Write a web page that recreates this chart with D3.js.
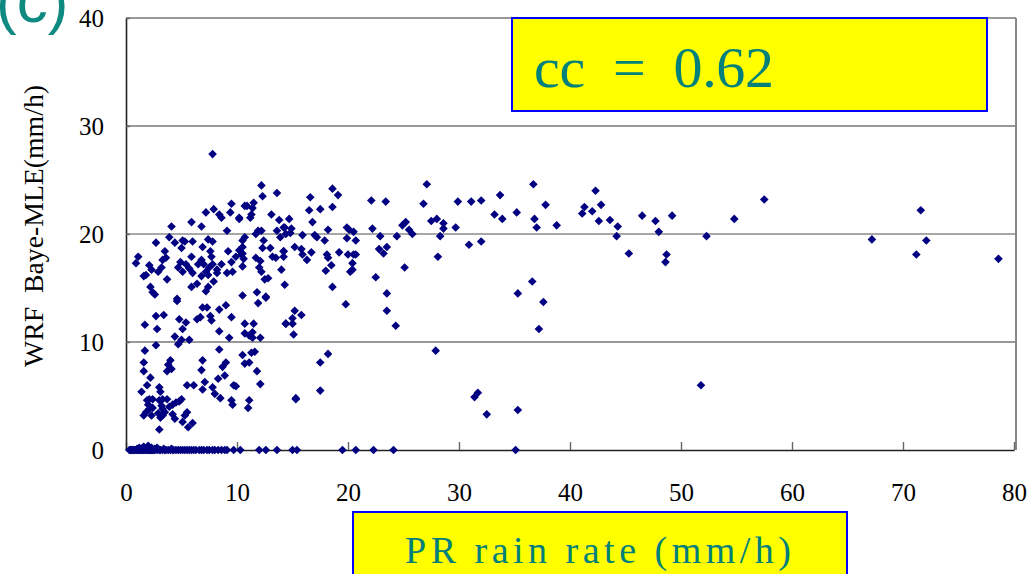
<!DOCTYPE html>
<html>
<head>
<meta charset="utf-8">
<script src="https://cdn.jsdelivr.net/npm/d3@7"></script>
<style>
  body { margin: 0; background: #fff; }
  svg { display: block; }
</style>
</head>
<body>
<svg width="1032" height="574"></svg>
<script>
// Chart data (PR rain rate vs WRF Baye-MLE, mm/h)
const xTicks = [0, 10, 20, 30, 40, 50, 60, 70, 80];
const yTicks = [0, 10, 20, 30, 40];
const gridValues = [10, 20, 30, 40];
const yLabel = 'WRF  Baye-MLE(mm/h)';
const xLabel = 'PR rain rate (mm/h)';
const ccLabel = 'cc  =  0.62';
const panelLabel = '(c)';

// PR values where WRF gives 0 mm/h
const zeroRowPR = [0.3, 0.4, 0.5, 0.6, 0.7, 0.8, 0.9, 1.0, 1.1, 1.2, 1.3, 1.4, 1.5, 1.6,
  1.7, 1.8, 1.9, 2.0, 2.1, 2.2, 2.3, 2.4, 2.5, 2.6, 2.8, 3.0, 3.1, 3.3, 3.5, 3.6, 3.8,
  4.0, 4.2, 4.3, 4.5, 4.7, 4.9, 5.1, 5.3, 5.5, 5.7, 5.9, 6.1, 6.3, 6.6, 6.8, 7.0, 7.3,
  7.5, 7.8, 8.0, 8.3, 8.6, 8.9, 9.1, 9.7, 10.3, 12.0, 12.6, 13.6, 15.0, 15.4, 19.5,
  20.7, 22.3, 24.1, 35.1];

// small nonzero values near the bottom
const nearZero = [[1.0, 0.1], [1.2, 0.2], [1.5, 0.2], [1.6, 0.3], [1.9, 0.2], [2.0, 0.4],
  [2.3, 0.2], [2.6, 0.1], [2.8, 0.2], [3.4, 0.1], [4.1, 0.1]];

// [PR, WRF]
const points = [
  // PR > 35
  [36.7, 24.6], [36.8, 21.4], [37.0, 20.6], [37.8, 22.7], [38.8, 20.8], [41.1, 21.9],
  [41.3, 22.5], [42.0, 22.1], [42.3, 24.0], [42.8, 22.7], [42.6, 21.2], [43.6, 21.3],
  [44.3, 20.7], [44.2, 19.8], [45.3, 18.2], [46.5, 21.7], [47.7, 21.2], [48.0, 20.2],
  [48.7, 18.1], [48.6, 17.4], [49.2, 21.7], [52.3, 19.8], [51.8, 6.0], [54.8, 21.4],
  [57.5, 23.2], [67.2, 19.5], [71.2, 18.1], [71.6, 22.2], [72.1, 19.4], [78.6, 17.7],
  [36.6, 15.6], [37.6, 13.7], [37.2, 11.2],
  // PR 14 - 36
  [27.1, 24.6], [18.6, 24.2], [19.1, 23.6], [16.6, 23.4], [16.5, 22.2], [17.5, 22.3],
  [18.6, 22.5], [22.1, 23.1], [23.4, 23.0], [26.8, 22.8], [29.9, 23.0], [31.1, 23.0],
  [32.0, 23.1], [33.7, 23.6], [33.2, 21.8], [33.9, 21.4], [35.2, 22.0], [14.7, 21.4],
  [16.8, 21.1], [14.3, 20.6], [14.9, 20.5], [14.8, 20.1], [15.9, 19.9], [17.0, 19.9],
  [17.2, 19.7], [18.2, 20.4], [17.9, 19.4], [19.9, 20.6], [20.1, 20.4], [20.5, 20.2],
  [20.7, 19.4], [19.9, 19.6], [22.2, 20.5], [22.9, 19.8], [24.4, 19.8], [24.9, 20.8],
  [25.2, 21.1], [25.5, 20.4], [25.8, 20.0], [27.5, 21.2], [28.0, 21.4], [28.6, 21.0],
  [28.6, 20.5], [28.3, 19.8], [29.7, 20.6], [30.9, 19.0], [32.0, 19.3], [28.1, 17.9],
  [15.2, 18.8], [15.8, 18.6], [14.2, 18.4], [15.9, 18.1], [16.7, 18.3], [16.3, 17.6],
  [14.2, 17.9], [18.1, 18.1], [18.2, 17.8], [19.2, 18.3], [20.0, 18.1], [20.5, 18.1],
  [20.7, 18.1], [20.4, 17.3], [20.4, 16.7], [20.2, 16.5], [18.5, 17.1], [18.0, 16.6],
  [22.8, 18.6], [23.5, 18.8], [23.2, 18.2], [25.1, 16.9], [22.5, 16.0], [14.3, 15.3],
  [18.6, 15.1], [23.5, 14.5], [35.3, 14.5], [19.8, 13.5], [23.5, 12.9], [24.3, 11.5],
  [15.2, 12.9], [15.8, 12.5], [14.4, 11.7], [15.0, 11.7], [15.0, 12.2], [15.1, 10.7],
  [27.9, 9.2], [18.2, 8.9], [17.5, 8.1], [17.5, 5.5], [15.3, 4.7], [31.4, 4.9],
  [31.7, 5.3], [32.5, 3.3], [35.3, 3.7],
  // PR 10 - 14
  [12.2, 24.5], [12.3, 23.5], [13.6, 23.8], [10.9, 22.6], [11.5, 22.9], [11.4, 22.4],
  [11.3, 21.8], [11.2, 21.5], [10.2, 21.5], [13.1, 21.8], [13.8, 21.3], [12.2, 20.3],
  [11.9, 20.3], [11.7, 20.0], [10.7, 19.7], [10.5, 19.4], [13.6, 20.3], [14.2, 20.6],
  [13.9, 19.7], [14.4, 20.0], [12.4, 19.4], [12.3, 18.7], [13.0, 18.7], [10.5, 18.8],
  [10.5, 18.2], [11.7, 17.8], [12.1, 17.5], [10.5, 17.0], [10.6, 17.7], [13.2, 17.9],
  [13.5, 17.8], [14.2, 18.4], [12.0, 16.9], [12.2, 16.5], [12.5, 15.8], [12.8, 15.9],
  [14.0, 16.7], [11.8, 14.6], [10.5, 14.3], [12.6, 14.2], [11.9, 13.6], [12.6, 14.1],
  [10.7, 11.7], [11.5, 11.7], [10.7, 10.8], [11.1, 10.6], [11.4, 10.9], [11.4, 10.4],
  [12.1, 10.4], [14.4, 11.7], [10.5, 8.8], [11.3, 9.0], [11.6, 9.1], [10.7, 8.0],
  [11.1, 8.1], [11.8, 7.3], [12.1, 6.1], [9.9, 5.9], [11.1, 4.6], [11.0, 3.9],
  [15.3, 4.8],
  // PR 0 - 10, upper cloud
  [7.8, 27.4], [7.2, 22.0], [7.9, 22.3], [8.4, 21.8], [8.6, 21.5], [9.5, 22.8],
  [9.4, 22.0], [10.2, 21.4], [10.7, 22.6], [5.9, 21.1], [6.8, 20.7], [4.1, 20.7],
  [9.1, 20.3], [3.9, 19.7], [2.7, 19.2], [3.5, 18.4], [4.4, 19.2], [5.1, 19.4],
  [5.3, 19.3], [6.0, 19.3], [5.0, 18.7], [7.4, 19.5], [7.8, 19.3], [6.9, 18.8],
  [7.6, 18.4], [7.7, 17.9], [9.2, 18.4], [10.2, 18.5], [1.1, 17.9], [0.9, 17.3],
  [3.3, 17.6], [3.6, 17.8], [3.2, 16.9], [2.1, 17.1], [2.3, 16.7], [1.8, 16.2],
  [2.9, 16.5], [4.7, 16.9], [4.9, 17.4], [5.4, 17.2], [5.9, 17.9], [5.7, 16.8],
  [5.1, 16.5], [6.0, 16.4], [6.5, 17.2], [6.8, 17.6], [7.0, 17.2], [7.5, 16.9],
  [7.8, 17.2], [8.2, 16.7], [8.6, 17.2], [7.2, 16.5], [6.8, 16.1], [7.4, 16.2],
  [8.2, 16.4], [9.1, 16.4], [9.6, 16.5], [9.5, 17.4], [9.9, 17.9], [10.4, 18.1],
  [1.6, 16.1], [2.2, 15.1], [2.4, 14.6], [2.6, 14.4], [3.7, 15.8], [5.9, 15.1],
  [6.4, 15.4], [7.4, 15.1], [7.9, 15.6], [4.6, 14.0],
  // PR 0 - 10, middle
  [4.6, 13.8], [7.2, 14.7], [6.9, 13.2], [7.3, 13.2], [8.4, 13.0], [9.0, 13.4],
  [9.5, 12.3], [2.7, 12.4], [3.4, 12.5], [1.7, 11.6], [2.8, 11.2], [4.8, 12.1],
  [5.4, 11.8], [5.1, 11.2], [6.4, 12.1], [6.7, 12.3], [7.7, 12.0], [7.6, 12.4],
  [8.4, 11.0], [9.3, 10.4], [4.4, 10.5], [5.0, 10.2], [5.7, 10.2], [4.7, 9.8],
  [2.7, 9.7], [1.7, 9.2], [8.4, 9.3], [4.0, 8.3], [3.8, 7.9], [4.1, 7.5], [3.7, 7.3],
  [1.6, 8.1], [1.6, 7.3], [6.9, 8.3], [6.8, 7.4], [9.0, 8.1], [8.7, 7.7], [8.9, 6.9],
  [8.3, 6.6],
  // PR 0 - 10, lower
  [2.2, 6.7], [1.9, 6.0], [3.0, 5.8], [3.1, 5.4], [5.5, 6.0], [6.1, 6.0], [7.1, 6.3],
  [6.9, 5.6], [7.8, 5.8], [8.0, 5.2], [8.5, 4.8], [9.7, 6.0], [9.5, 4.6], [9.6, 4.2],
  [1.4, 5.4], [1.9, 4.6], [2.1, 4.7], [2.4, 4.7], [3.0, 4.6], [3.3, 4.7], [3.7, 4.7],
  [2.0, 4.2], [2.1, 3.8], [2.4, 3.9], [3.2, 4.1], [3.3, 3.8], [3.9, 4.0], [4.2, 4.2],
  [4.5, 4.4], [4.8, 4.5], [5.0, 4.7], [1.6, 3.2], [1.8, 3.5], [2.3, 3.2], [2.9, 3.4],
  [3.3, 3.2], [3.5, 3.5], [3.1, 3.0], [4.2, 3.3], [4.4, 2.9], [5.1, 2.6], [5.3, 3.2],
  [5.5, 3.5], [5.6, 2.1], [6.0, 2.5], [3.0, 1.9]
];

const svg = d3.select('svg');
const teal = '#00807a';
const navy = '#000080';
const serif = 'Liberation Serif, Times New Roman, serif';

const x = d3.scaleLinear().domain([0, 80]).range([126, 1014]);
const y = d3.scaleLinear().domain([0, 40]).range([450, 18]);

// grid lines + frame
svg.append('g')
  .selectAll('line')
  .data(gridValues)
  .join('line')
  .attr('x1', x(0))
  .attr('x2', x(80) + 2)
  .attr('y1', d => y(d))
  .attr('y2', d => y(d))
  .style('stroke', d => d === 20 ? '#8a8a8a' : '#333')
  .style('stroke-width', d => d === 20 ? 1.6 : 1.2);

svg.append('line')
  .attr('x1', x(80) + 2).attr('x2', x(80) + 2)
  .attr('y1', y(40)).attr('y2', y(0))
  .style('stroke', '#888')
  .style('stroke-width', 2);

// axes
const xAxis = svg.append('g')
  .attr('transform', `translate(0,${y(0)})`)
  .call(d3.axisBottom(x).tickValues(xTicks).tickSize(-8).tickPadding(33).tickSizeOuter(0));
const yAxis = svg.append('g')
  .attr('transform', `translate(${x(0)},0)`)
  .call(d3.axisLeft(y).tickValues(yTicks).tickSize(-4).tickPadding(22).tickSizeOuter(0));

[xAxis, yAxis].forEach(g => {
  g.select('.domain').style('stroke', '#222').style('stroke-width', 1.6);
  g.selectAll('.tick line').style('stroke', '#666').style('stroke-width', 1.4);
  g.selectAll('.tick text')
    .style('font-family', serif)
    .style('font-size', '25px')
    .style('fill', '#000');
});

// points
const diamond = 'M0,-4.3L4.3,0L0,4.3L-4.3,0Z';
const allPoints = points
  .concat(nearZero)
  .concat(zeroRowPR.map(v => [v, 0]));

svg.append('g')
  .selectAll('path')
  .data(allPoints)
  .join('path')
  .attr('d', diamond)
  .attr('transform', d => `translate(${x(d[0])},${y(d[1])})`)
  .attr('fill', navy);

// y label
svg.append('text')
  .attr('transform', 'translate(43,226) rotate(-90)')
  .attr('text-anchor', 'middle')
  .attr('textLength', 282)
  .attr('lengthAdjust', 'spacingAndGlyphs')
  .style('font-family', serif)
  .style('font-size', '28px')
  .style('white-space', 'pre')
  .text(yLabel);

// cc box
svg.append('rect')
  .attr('x', 512).attr('y', 18)
  .attr('width', 475).attr('height', 93)
  .attr('fill', '#ffff00')
  .attr('stroke', '#0000ff')
  .attr('stroke-width', 2);
svg.append('text')
  .attr('x', 534).attr('y', 87)
  .attr('textLength', 240)
  .attr('lengthAdjust', 'spacing')
  .style('font-family', serif)
  .style('font-size', '58px')
  .style('fill', teal)
  .style('white-space', 'pre')
  .text(ccLabel);

// x label box
svg.append('rect')
  .attr('x', 353).attr('y', 512)
  .attr('width', 494).attr('height', 80)
  .attr('fill', '#ffff00')
  .attr('stroke', '#0000ff')
  .attr('stroke-width', 2);
svg.append('text')
  .attr('x', 405).attr('y', 563)
  .attr('textLength', 386)
  .attr('lengthAdjust', 'spacing')
  .style('font-family', serif)
  .style('font-size', '38px')
  .style('fill', teal)
  .style('white-space', 'pre')
  .text(xLabel);

// panel label
svg.append('text')
  .attr('x', -4).attr('y', 22)
  .style('font-family', 'Liberation Sans, sans-serif')
  .style('font-size', '62px')
  .style('fill', '#0f8a80')
  .text(panelLabel);
</script>
</body>
</html>
